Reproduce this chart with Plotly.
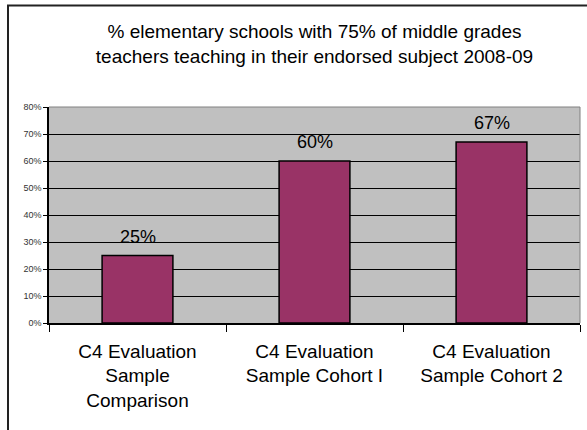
import plotly.graph_objects as go

categories = ["C4 Evaluation<br>Sample<br>Comparison",
              "C4 Evaluation<br>Sample Cohort I",
              "C4 Evaluation<br>Sample Cohort 2"]
values = [25, 60, 67]
y_ticks = [0, 10, 20, 30, 40, 50, 60, 70, 80]
y_tick_labels = [f"{v}%" for v in y_ticks]
title_text = ("% elementary schools with 75% of middle grades<br>"
              "teachers teaching in their endorsed subject 2008-09")

FONT = "Liberation Sans, Arial, sans-serif"

L, T, W, H = 49, 107, 531, 216

fig = go.Figure()
fig.add_trace(go.Bar(
    x=categories, y=values, width=0.4,
    marker=dict(color="#993366", line=dict(color="#000000", width=1.5)),
    hoverinfo="skip",
))

for c, v in zip(categories, values):
    fig.add_annotation(x=c, y=v, text=f"{v}%", showarrow=False,
                       yanchor="bottom", yshift=7,
                       font=dict(family=FONT, size=18, color="#000000"))

# chart outer border (left and top visible)
fig.add_shape(type="rect", xref="paper", yref="paper",
              x0=(8 - L) / W, x1=(620 - L) / W,
              y0=(T + H - 460) / H, y1=(T + H - 5.5) / H,
              line=dict(color="#222222", width=2), layer="above")
# plot area top/right border (gray)
fig.add_shape(type="line", xref="paper", yref="paper", x0=0, x1=1, y0=1, y1=1,
              line=dict(color="#808080", width=1), layer="above")
fig.add_shape(type="line", xref="paper", yref="paper", x0=1, x1=1, y0=0, y1=1,
              line=dict(color="#808080", width=1), layer="above")

fig.update_layout(
    width=587, height=430,
    margin=dict(l=L, r=587 - L - W, t=T, b=430 - T - H, autoexpand=False),
    paper_bgcolor="#ffffff", plot_bgcolor="#C0C0C0",
    showlegend=False,
    font=dict(family=FONT, color="#000000"),
    title=dict(text=title_text, x=0.5, xanchor="center", xref="paper",
               y=(430 - 38) / 430, yanchor="top",
               font=dict(family=FONT, size=19, color="#000000")),
)
fig.update_xaxes(
    type="category", tickson="boundaries", ticks="outside", ticklen=7,
    tickcolor="#000000", tickwidth=1, automargin=False,
    showline=True, linecolor="#000000", linewidth=1.5,
    ticklabelstandoff=10,
    showgrid=False, tickfont=dict(family=FONT, size=19, color="#000000"),
    range=[-0.5, 2.5],
)
fig.update_yaxes(
    range=[0, 80], tickvals=y_ticks, ticktext=y_tick_labels, automargin=False,
    ticks="outside", ticklen=4, tickcolor="#000000",
    showline=True, linecolor="#000000", linewidth=1.5,
    showgrid=True, gridcolor="#000000", gridwidth=1,
    zeroline=False,
    tickfont=dict(family=FONT, size=9, color="#333333"),
)

fig.write_html("out.html", config={"displayModeBar": False},
               post_script="document.body.style.margin='0';")
